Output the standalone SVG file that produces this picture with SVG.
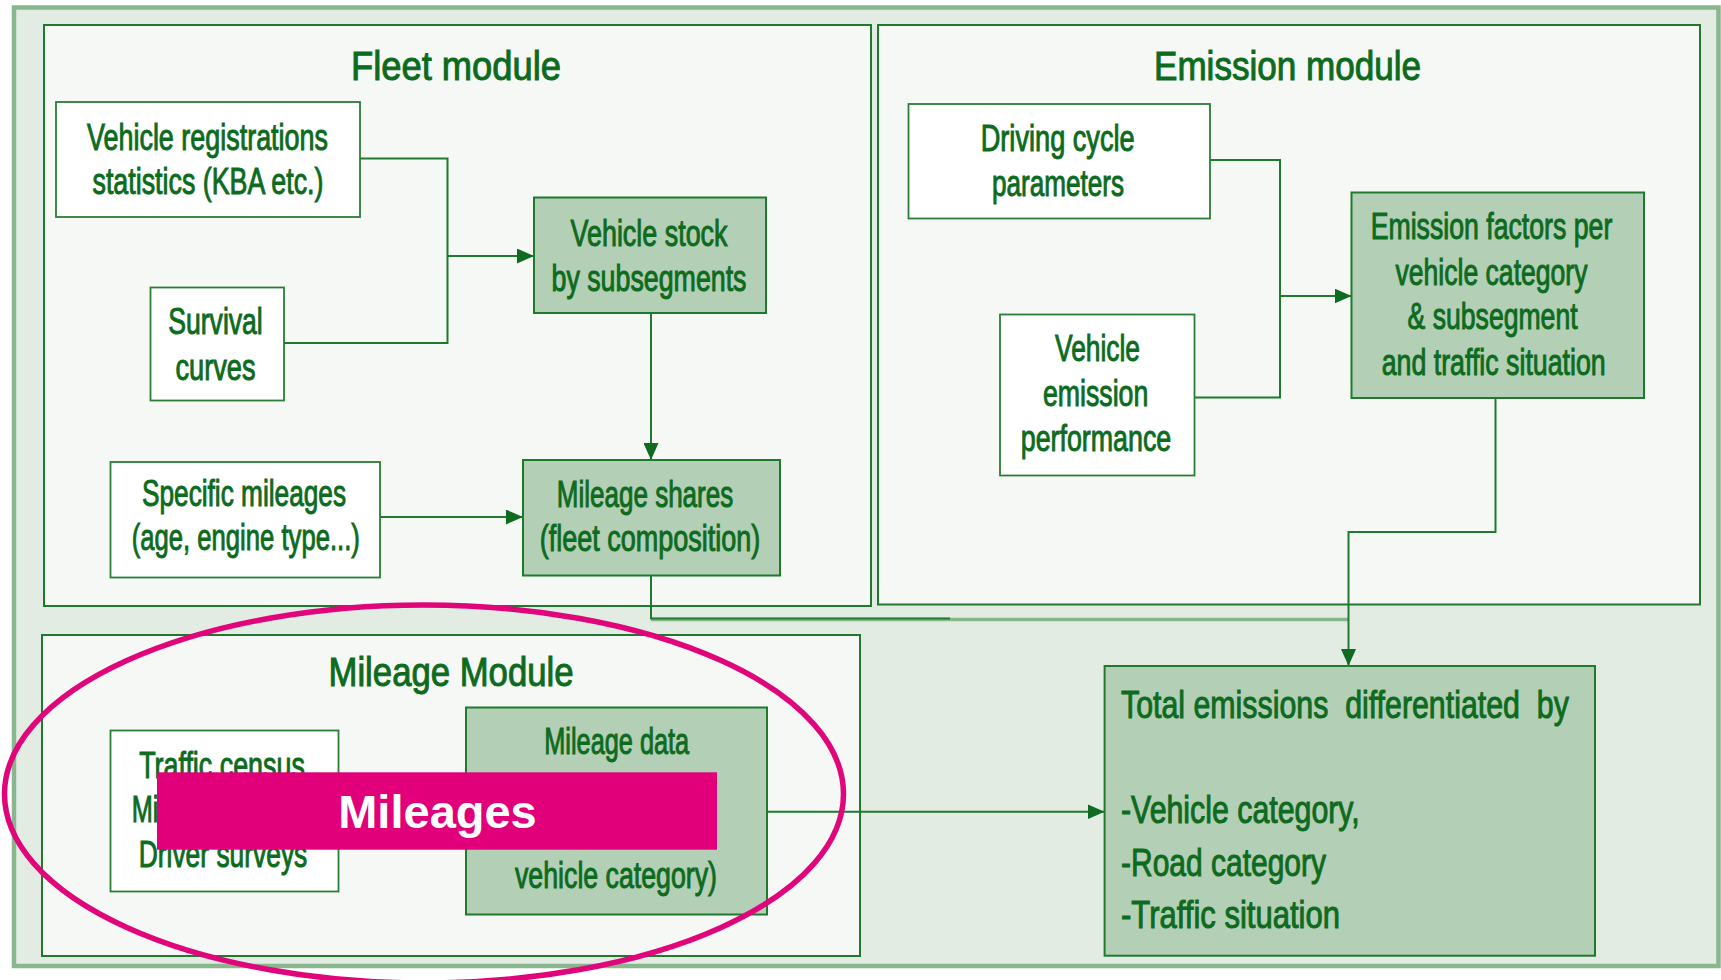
<svg xmlns="http://www.w3.org/2000/svg" width="1721" height="980" viewBox="0 0 1721 980">
  <style>
    .frame { fill: #e2ece2; stroke: #88b78d; stroke-width: 4.5; }
    .panel { fill: #f5f8f4; stroke: #1f7a2d; stroke-width: 2; }
    .src { fill: #ffffff; stroke: #2a7d35; stroke-width: 1.8; }
    .res { fill: #b3cfb6; stroke: #1f7a2d; stroke-width: 2; }
    .title { font-family: "Liberation Sans", Arial, sans-serif; font-size: 40px; fill: #0d6b1e; stroke: #0d6b1e; stroke-width: 1; text-anchor: middle; }
    .t { font-family: "Liberation Sans", Arial, sans-serif; font-size: 37px; fill: #0d6b1e; stroke: #0d6b1e; stroke-width: 1; text-anchor: middle; }
    .tl { font-family: "Liberation Sans", Arial, sans-serif; font-size: 39px; fill: #0d6b1e; stroke: #0d6b1e; stroke-width: 1; text-anchor: start; white-space: pre; }
    .link { fill: none; stroke: #1f7a2d; stroke-width: 2; }
    .link-soft { fill: none; stroke: #86b68b; stroke-width: 3.5; }
    .hl-ring { fill: none; stroke: #e0057b; stroke-width: 5.5; }
    .hl-bar { fill: #e2007a; }
    .hl-text { font-family: "Liberation Sans", Arial, sans-serif; font-size: 47px; font-weight: bold; fill: #ffffff; text-anchor: middle; }
  </style>
  <defs>
    <marker id="arrow" viewBox="0 0 17 15" refX="17" refY="7.5" markerWidth="17" markerHeight="15" markerUnits="userSpaceOnUse" orient="auto">
      <path d="M0 0 L17 7.5 L0 15 Z" fill="#0f6b1f"/>
    </marker>
  </defs>

  <!-- outer frame -->
  <rect class="frame" x="14" y="7.5" width="1704.5" height="958.5"/>

  <!-- module panels -->
  <g id="fleet-module">
    <rect class="panel" x="44" y="25" width="827" height="581"/>
    <text class="title" x="456" y="80" textLength="210" lengthAdjust="spacingAndGlyphs">Fleet module</text>
  </g>
  <g id="emission-module">
    <rect class="panel" x="878" y="25" width="822" height="579.5"/>
    <text class="title" x="1287.5" y="80" textLength="267" lengthAdjust="spacingAndGlyphs">Emission module</text>
  </g>
  <g id="mileage-module">
    <rect class="panel" x="42" y="635" width="818" height="321"/>
    <text class="title" x="451" y="686" textLength="245" lengthAdjust="spacingAndGlyphs">Mileage Module</text>
  </g>

  <!-- connectors -->
  <g id="connectors">
    <path class="link" d="M360 158.5 H447.5 V343 H284"/>
    <path class="link" d="M447.5 256 H534" marker-end="url(#arrow)"/>
    <path class="link" d="M651 313 V460" marker-end="url(#arrow)"/>
    <path class="link" d="M380 517 H523" marker-end="url(#arrow)"/>
    <path class="link-soft" d="M651 619.5 H1348.5"/>
    <path class="link" d="M651 575 V618.5 H950"/>
    <path class="link" d="M1210 160 H1280 V397.5 H1194.5"/>
    <path class="link" d="M1280 296 H1351.5" marker-end="url(#arrow)"/>
    <path class="link" d="M1495.5 398.5 V532 H1348.5 V666" marker-end="url(#arrow)"/>
    <path class="link" d="M767 811.7 H1104.6" marker-end="url(#arrow)"/>
  </g>

  <!-- fleet module nodes -->
  <g id="vehicle-registrations">
    <rect class="src" x="56" y="102" width="304" height="115"/>
    <text class="t" x="207.5" y="150" textLength="241" lengthAdjust="spacingAndGlyphs">Vehicle registrations</text>
    <text class="t" x="208" y="193.5" textLength="231" lengthAdjust="spacingAndGlyphs">statistics (KBA etc.)</text>
  </g>
  <g id="survival-curves">
    <rect class="src" x="150.5" y="287.5" width="133.5" height="113"/>
    <text class="t" x="215.5" y="334" textLength="94.5" lengthAdjust="spacingAndGlyphs">Survival</text>
    <text class="t" x="215.5" y="379.5" textLength="80" lengthAdjust="spacingAndGlyphs">curves</text>
  </g>
  <g id="vehicle-stock">
    <rect class="res" x="534" y="197.5" width="232" height="115.5"/>
    <text class="t" x="649" y="246" textLength="157" lengthAdjust="spacingAndGlyphs">Vehicle stock</text>
    <text class="t" x="649" y="290.5" textLength="195" lengthAdjust="spacingAndGlyphs">by subsegments</text>
  </g>
  <g id="specific-mileages">
    <rect class="src" x="110.5" y="462" width="269.5" height="115.5"/>
    <text class="t" x="244" y="506" textLength="204" lengthAdjust="spacingAndGlyphs">Specific mileages</text>
    <text class="t" x="245.8" y="549.5" textLength="228" lengthAdjust="spacingAndGlyphs">(age, engine type...)</text>
  </g>
  <g id="mileage-shares">
    <rect class="res" x="523" y="460" width="257" height="115.5"/>
    <text class="t" x="645" y="507" textLength="176.5" lengthAdjust="spacingAndGlyphs">Mileage shares</text>
    <text class="t" x="650" y="550.5" textLength="220.5" lengthAdjust="spacingAndGlyphs">(fleet composition)</text>
  </g>

  <!-- emission module nodes -->
  <g id="driving-cycle">
    <rect class="src" x="908.5" y="104" width="301.5" height="114.5"/>
    <text class="t" x="1057.7" y="151.4" textLength="154" lengthAdjust="spacingAndGlyphs">Driving cycle</text>
    <text class="t" x="1058" y="195.7" textLength="132" lengthAdjust="spacingAndGlyphs">parameters</text>
  </g>
  <g id="vehicle-emission-performance">
    <rect class="src" x="1000" y="314.5" width="194.5" height="161"/>
    <text class="t" x="1097.5" y="360.6" textLength="85" lengthAdjust="spacingAndGlyphs">Vehicle</text>
    <text class="t" x="1095.6" y="406" textLength="105.4" lengthAdjust="spacingAndGlyphs">emission</text>
    <text class="t" x="1096" y="450.8" textLength="150.5" lengthAdjust="spacingAndGlyphs">performance</text>
  </g>
  <g id="emission-factors">
    <rect class="res" x="1351.5" y="192.5" width="292.5" height="205.5"/>
    <text class="t" x="1491.5" y="239.2" textLength="241.6" lengthAdjust="spacingAndGlyphs">Emission factors per</text>
    <text class="t" x="1491.5" y="284.7" textLength="192" lengthAdjust="spacingAndGlyphs">vehicle category</text>
    <text class="t" x="1492.6" y="329.4" textLength="170" lengthAdjust="spacingAndGlyphs">&amp; subsegment</text>
    <text class="t" x="1493.7" y="374.5" textLength="224" lengthAdjust="spacingAndGlyphs">and traffic situation</text>
  </g>

  <!-- mileage module nodes -->
  <g id="traffic-census">
    <rect class="src" x="110.5" y="730.5" width="228" height="161"/>
    <text class="t" x="222" y="778" textLength="165.7" lengthAdjust="spacingAndGlyphs">Traffic census</text>
    <text class="t" x="131.7" y="821.7" style="text-anchor:start" textLength="26.7" lengthAdjust="spacingAndGlyphs">Mi</text>
    <text class="t" x="223" y="866.7" textLength="168.5" lengthAdjust="spacingAndGlyphs">Driver surveys</text>
  </g>
  <g id="mileage-data">
    <rect class="res" x="466" y="707.5" width="301" height="207"/>
    <text class="t" x="616.7" y="754" textLength="144.8" lengthAdjust="spacingAndGlyphs">Mileage data</text>
    <text class="t" x="616" y="888.3" textLength="202" lengthAdjust="spacingAndGlyphs">vehicle category)</text>
  </g>

  <!-- result node -->
  <g id="total-emissions">
    <rect class="res" x="1104.6" y="666" width="490.4" height="289.7"/>
    <text class="tl" x="1121" y="718.3" xml:space="preserve" textLength="447.8" lengthAdjust="spacingAndGlyphs">Total emissions  differentiated  by</text>
    <text class="tl" x="1121" y="823.3" textLength="238.7" lengthAdjust="spacingAndGlyphs">-Vehicle category,</text>
    <text class="tl" x="1121" y="876" textLength="205" lengthAdjust="spacingAndGlyphs">-Road category</text>
    <text class="tl" x="1121" y="928.3" textLength="219" lengthAdjust="spacingAndGlyphs">-Traffic situation</text>
  </g>

  <!-- highlight over the mileage module -->
  <g id="mileages-highlight">
    <ellipse class="hl-ring" cx="424" cy="794" rx="419.5" ry="189"/>
    <rect class="hl-bar" x="157" y="772.3" width="560" height="77.4"/>
    <text class="hl-text" x="437.5" y="827.7">Mileages</text>
  </g>
</svg>
